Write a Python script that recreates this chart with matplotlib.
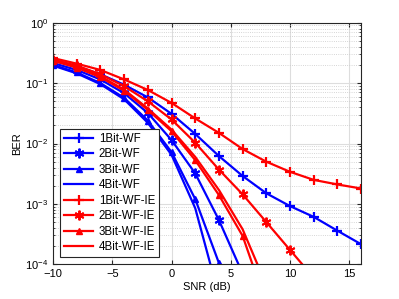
import numpy as np
import matplotlib
matplotlib.use("Agg")
import matplotlib.pyplot as plt

snr = [-10, -8, -6, -4, -2, 0, 2, 4, 6, 8, 10, 12, 14, 16]

# BER curves (values below 1e-4 are clipped by the axis)
ber_1bit_wf = [0.235, 0.19, 0.14, 0.094, 0.058, 0.031, 0.0144, 6.2e-3, 2.9e-3, 1.5e-3, 9.2e-4, 6.1e-4, 3.6e-4, 2.15e-4]
ber_2bit_wf = [0.215, 0.165, 0.115, 0.068, 0.032, 0.0114, 3.2e-3, 5.4e-4, 7e-5]
ber_3bit_wf = [0.20, 0.15, 0.10, 0.057, 0.024, 0.0072, 1.2e-3, 1.05e-4, 1e-6]
ber_4bit_wf = [0.195, 0.145, 0.096, 0.054, 0.022, 0.0065, 8.5e-4, 3e-5]

ber_1bit_ie = [0.26, 0.21, 0.165, 0.115, 0.077, 0.047, 0.026, 0.015, 8.1e-3, 5.0e-3, 3.4e-3, 2.5e-3, 2.1e-3, 1.8e-3]
ber_2bit_ie = [0.245, 0.195, 0.14, 0.089, 0.05, 0.025, 0.0103, 3.7e-3, 1.44e-3, 5.0e-4, 1.73e-4, 6e-5]
ber_3bit_ie = [0.235, 0.18, 0.125, 0.075, 0.036, 0.016, 5.3e-3, 1.4e-3, 2.95e-4, 2.2e-5]
ber_4bit_ie = [0.24, 0.185, 0.13, 0.078, 0.038, 0.017, 6.0e-3, 1.7e-3, 3.8e-4, 4.5e-5]

plt.rcParams["font.family"] = ["Liberation Sans", "DejaVu Sans"]

fig = plt.figure(figsize=(3.99, 2.99), dpi=100)
ax = fig.add_axes([0.133, 0.116, 0.772, 0.808])

lw = 1.6
ms = 6
star = (6, 2, 0)  # asterisk like MATLAB's '*'
ax.plot(snr[:len(ber_1bit_wf)], ber_1bit_wf, "b-+", lw=lw, ms=ms + 1, mew=1.6, label="1Bit-WF")
ax.plot(snr[:len(ber_2bit_wf)], ber_2bit_wf, "b-", marker=star, lw=lw, ms=ms + 1, mew=1.4, label="2Bit-WF")
ax.plot(snr[:len(ber_3bit_wf)], ber_3bit_wf, "b-^", lw=lw, ms=ms - 1, label="3Bit-WF")
ax.plot(snr[:len(ber_4bit_wf)], ber_4bit_wf, "b-", lw=lw, label="4Bit-WF")
ax.plot(snr[:len(ber_1bit_ie)], ber_1bit_ie, "r-+", lw=lw, ms=ms + 1, mew=1.6, label="1Bit-WF-IE")
ax.plot(snr[:len(ber_2bit_ie)], ber_2bit_ie, "r-", marker=star, lw=lw, ms=ms + 1, mew=1.4, label="2Bit-WF-IE")
ax.plot(snr[:len(ber_3bit_ie)], ber_3bit_ie, "r-^", lw=lw, ms=ms - 1, label="3Bit-WF-IE")
ax.plot(snr[:len(ber_4bit_ie)], ber_4bit_ie, "r-", lw=lw, label="4Bit-WF-IE")

ax.set_yscale("log")
ax.set_xlim(-10, 16)
ax.set_ylim(1e-4, 1)
ax.set_xticks([-10, -5, 0, 5, 10, 15])
ax.set_xlabel("SNR (dB)", fontsize=8, labelpad=2)
ax.set_ylabel("BER", fontsize=8, labelpad=2)
ax.tick_params(which="both", direction="in", top=True, right=True, labelsize=8, color="#262626")
ax.tick_params(which="major", length=3)
ax.tick_params(which="minor", length=1.5)
ax.grid(True, which="major", color="#dddddd", lw=0.8)
ax.grid(True, which="minor", axis="y", color="#c8c8c8", lw=0.6, ls=":")
for s in ax.spines.values():
    s.set_color("#262626")
    s.set_linewidth(0.8)

leg = ax.legend(loc="lower left", bbox_to_anchor=(0.023, 0.03), borderaxespad=0,
                fontsize=8.3, handlelength=2.5, borderpad=0.35, labelspacing=0.3,
                handletextpad=0.5, fancybox=False, framealpha=1)
leg.get_frame().set_edgecolor("#262626")
leg.get_frame().set_linewidth(0.8)

fig.savefig("out.png", dpi=100)
